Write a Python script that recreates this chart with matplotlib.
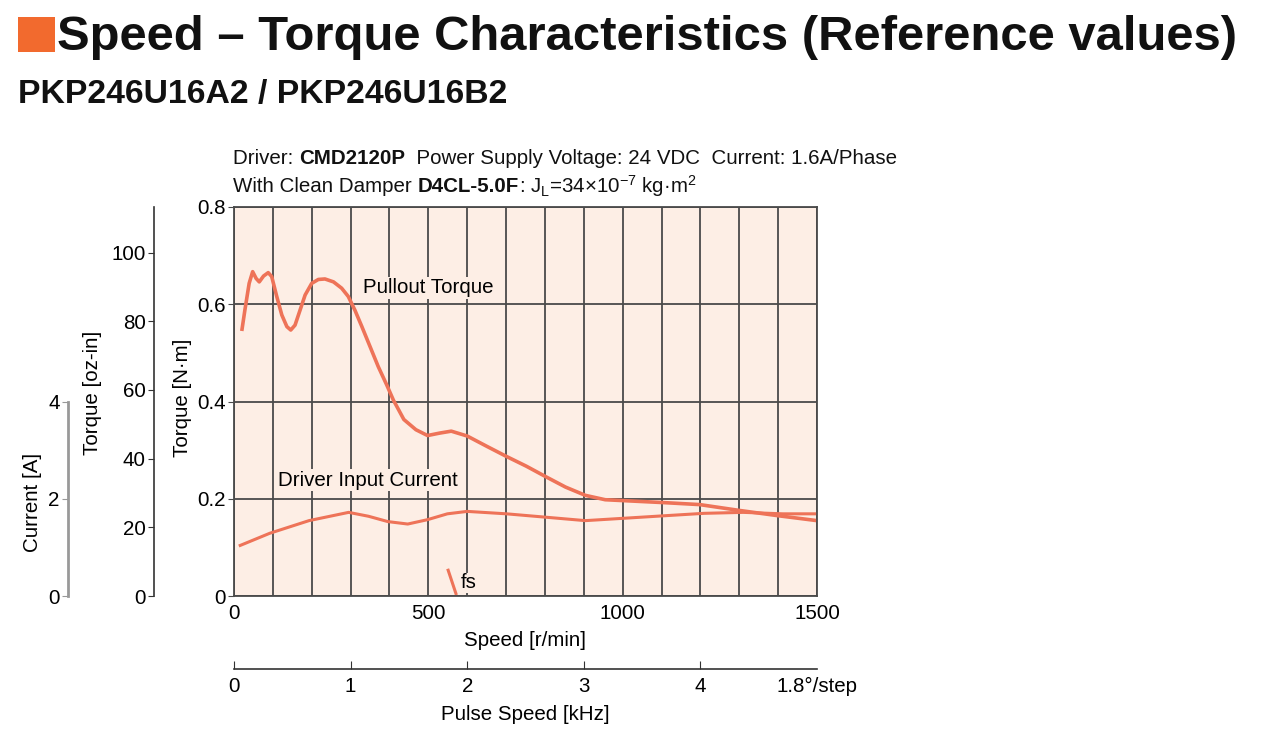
import matplotlib
matplotlib.use("Agg")
import matplotlib.pyplot as plt
from matplotlib import font_manager
from matplotlib.patches import Rectangle

# ── fonts ────────────────────────────────────────────────────────────────────
names = {f.name for f in font_manager.fontManager.ttflist}
NARROW = "Liberation Sans Narrow" if "Liberation Sans Narrow" in names else "Liberation Sans"
BOLD = "Liberation Sans"
plt.rcParams["font.family"] = [NARROW, "DejaVu Sans"]
plt.rcParams["mathtext.fontset"] = "custom"
plt.rcParams["mathtext.rm"] = NARROW
plt.rcParams["mathtext.it"] = NARROW

# ── data ─────────────────────────────────────────────────────────────────────
pullout_speed = [20, 28, 39, 48, 57, 65, 76, 88, 97, 110, 123, 136, 146, 157,
                 170, 183, 200, 217, 234, 256, 277, 294, 311, 329, 350, 371,
                 393, 410, 437, 468, 498, 529, 559, 600, 650, 701, 752, 803,
                 853, 904, 955, 1006, 1107, 1198, 1300, 1401, 1500]
pullout_torque = [0.545, 0.588, 0.643, 0.667, 0.653, 0.646, 0.658, 0.665, 0.657,
                  0.616, 0.578, 0.554, 0.547, 0.557, 0.588, 0.619, 0.643, 0.651,
                  0.652, 0.646, 0.633, 0.616, 0.588, 0.554, 0.513, 0.472, 0.434,
                  0.403, 0.363, 0.342, 0.330, 0.335, 0.339, 0.329, 0.308, 0.287,
                  0.267, 0.245, 0.224, 0.207, 0.198, 0.196, 0.192, 0.188, 0.176,
                  0.165, 0.155]

current_speed = [16, 92, 193, 295, 346, 396, 447, 498, 549, 600, 701, 803, 904,
                 1006, 1107, 1209, 1310, 1412, 1500]
current_amp = [1.04, 1.29, 1.55, 1.72, 1.64, 1.53, 1.48, 1.57, 1.69, 1.74, 1.69,
               1.62, 1.55, 1.60, 1.65, 1.70, 1.72, 1.69, 1.69]

fs_speed = [551, 571]
fs_torque = [0.053, 0.005]

speed_ticks = [0, 500, 1000, 1500]
nm_ticks = [0, 0.2, 0.4, 0.6, 0.8]
nm_ticklabels = ["0", "0.2", "0.4", "0.6", "0.8"]
ozin_ticks = [0, 20, 40, 60, 80, 100]
current_ticks = [0, 2, 4]
pulse_ticks = [0, 1, 2, 3, 4, 5]
pulse_ticklabels = ["0", "1", "2", "3", "4", "1.8°/step"]

NM_PER_OZIN = 0.0070615518
NM_PER_AMP = 0.1

# ── styles ───────────────────────────────────────────────────────────────────
CURVE = "#EE7358"
BG = "#FDEEE5"
GRID = "#4a4a4a"
FS = 14.8
W, H = 1280, 739

fig = plt.figure(figsize=(12.8, 7.39), dpi=100)


def fx(px):
    return px / W


def fy(py):
    return 1 - py / H


# title block
fig.add_artist(Rectangle((fx(18), fy(52)), fx(55) - fx(18), fy(17) - fy(52),
                         transform=fig.transFigure, color="#F26A2E", lw=0))
fig.text(fx(57), fy(50), "Speed – Torque Characteristics (Reference values)",
         family=BOLD, weight="bold", fontsize=35.3, va="baseline", ha="left", color="#111")
fig.text(fx(18), fy(103), "PKP246U16A2 / PKP246U16B2",
         family=BOLD, weight="bold", fontsize=24.3, va="baseline", ha="left", color="#111")


def draw_runs(x, y, runs, size=FS):
    fig.canvas.draw()
    r = fig.canvas.get_renderer()
    cur = fx(x)
    for txt, bold in runs:
        t = fig.text(cur, fy(y), txt, fontsize=size, va="center", ha="left",
                     family=BOLD if bold else NARROW,
                     weight="bold" if bold else "normal", color="#111")
        bb = t.get_window_extent(renderer=r)
        cur += bb.width / W


draw_runs(233, 158, [("Driver: ", False), ("CMD2120P", True),
                     ("  Power Supply Voltage: 24 VDC  Current: 1.6A/Phase", False)])
draw_runs(233, 186, [("With Clean Damper ", False), ("D4CL-5.0F", True),
                     (r": J$_{\rm L}$=34×10$^{-7}$ kg·m$^{2}$", False)])

# ── main axes ────────────────────────────────────────────────────────────────
left, right, top, bot = 234, 817, 207, 596
ax = fig.add_axes([fx(left), fy(bot), fx(right) - fx(left), fy(top) - fy(bot)])
ax.set_facecolor(BG)
ax.set_xlim(0, 1500)
ax.set_ylim(0, 0.8)
ax.set_xticks(speed_ticks)
ax.set_xticks(range(0, 1501, 100), minor=True)
ax.set_yticks(nm_ticks)
ax.set_yticklabels(nm_ticklabels)
ax.grid(True, which="both", axis="x", color=GRID, lw=1.3)
ax.grid(True, which="major", axis="y", color=GRID, lw=1.3)
ax.tick_params(axis="x", which="both", length=0, labelsize=FS, pad=6)
ax.tick_params(axis="y", length=4, labelsize=FS, pad=2, color=GRID)
for s in ax.spines.values():
    s.set_color(GRID)
    s.set_linewidth(1.3)

ax.plot(pullout_speed, pullout_torque, color=CURVE, lw=2.6, solid_capstyle="butt")
ax.plot(current_speed, [a * NM_PER_AMP for a in current_amp], color=CURVE, lw=2.2)
ax.plot(fs_speed, fs_torque, color=CURVE, lw=2.2)

ax.text(332, 0.634, "Pullout Torque", fontsize=FS, va="center", ha="left",
        bbox=dict(facecolor=BG, edgecolor="none", pad=1))
ax.text(113, 0.238, "Driver Input Current", fontsize=FS, va="center", ha="left",
        bbox=dict(facecolor=BG, edgecolor="none", pad=1))
ax.text(583, 0.027, "fs", fontsize=FS, va="center", ha="left",
        bbox=dict(facecolor=BG, edgecolor="none", pad=0.5))

fig.text(fx(525), fy(640), "Speed [r/min]", fontsize=FS, ha="center", va="center")
fig.text(fx(183), fy(398), "Torque [N·m]", fontsize=FS, ha="center", va="center",
         rotation=90)

# ── oz-in axis ───────────────────────────────────────────────────────────────
ax_oz = fig.add_axes([fx(154), fy(bot), 0.0001, fy(top) - fy(bot)])
ax_oz.set_ylim(0, 0.8 / NM_PER_OZIN)
ax_oz.set_yticks(ozin_ticks)
ax_oz.set_xticks([])
for k in ("top", "right", "bottom"):
    ax_oz.spines[k].set_visible(False)
ax_oz.spines["left"].set_color("#333")
ax_oz.spines["left"].set_linewidth(1.2)
ax_oz.patch.set_visible(False)
ax_oz.tick_params(axis="y", length=4, labelsize=FS, pad=2, color="#333")
fig.text(fx(93), fy(393), "Torque [oz-in]", fontsize=FS, ha="center", va="center",
         rotation=90)

# ── current axis ─────────────────────────────────────────────────────────────
cur_top = bot - (4 * NM_PER_AMP / 0.8) * (bot - top)
ax_a = fig.add_axes([fx(68), fy(bot), 0.0001, fy(cur_top) - fy(bot)])
ax_a.set_ylim(0, 4)
ax_a.set_yticks(current_ticks)
ax_a.set_xticks([])
for k in ("top", "right", "bottom"):
    ax_a.spines[k].set_visible(False)
ax_a.spines["left"].set_color("#999")
ax_a.spines["left"].set_linewidth(2)
ax_a.patch.set_visible(False)
ax_a.tick_params(axis="y", length=4, labelsize=FS, pad=2, color="#999")
fig.text(fx(32), fy(502), "Current [A]", fontsize=FS, ha="center", va="center",
         rotation=90)

# ── pulse speed axis ─────────────────────────────────────────────────────────
ax_p = fig.add_axes([fx(left), fy(669), fx(right) - fx(left), 0.0001])
ax_p.set_xlim(0, 5)
ax_p.set_xticks(pulse_ticks)
ax_p.set_xticklabels(pulse_ticklabels)
ax_p.set_yticks([])
for k in ("top", "right", "left"):
    ax_p.spines[k].set_visible(False)
ax_p.spines["bottom"].set_color("#333")
ax_p.spines["bottom"].set_linewidth(1.2)
ax_p.patch.set_visible(False)
ax_p.tick_params(axis="x", direction="in", length=6, labelsize=FS, pad=6, color="#333")
ax_p.xaxis.get_major_ticks()[-1].tick1line.set_visible(False)
fig.text(fx(525), fy(715), "Pulse Speed [kHz]", fontsize=FS, ha="center", va="center")

fig.savefig("out.png", dpi=100, facecolor="white")
